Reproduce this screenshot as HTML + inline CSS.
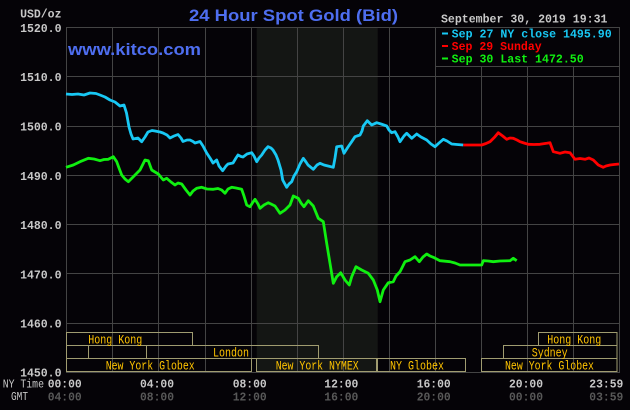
<!DOCTYPE html>
<html><head><meta charset="utf-8"><style>
html,body{margin:0;padding:0;background:#050307;}
svg{display:block;}
.m{font-family:"Liberation Mono",monospace;}
</style></head><body>
<svg width="630" height="410" viewBox="0 0 630 410" xmlns="http://www.w3.org/2000/svg">
<rect x="0" y="0" width="630" height="410" fill="#050307"/>
<rect x="256.7" y="27" width="121" height="345" fill="#141614"/>
<g stroke="#444444" stroke-width="1" fill="none">
<line x1="112.5" y1="27" x2="112.5" y2="372"/>
<line x1="158.5" y1="27" x2="158.5" y2="372"/>
<line x1="205.5" y1="27" x2="205.5" y2="372"/>
<line x1="251.5" y1="27" x2="251.5" y2="372"/>
<line x1="297.5" y1="27" x2="297.5" y2="372"/>
<line x1="343.5" y1="27" x2="343.5" y2="372"/>
<line x1="389.5" y1="27" x2="389.5" y2="372"/>
<line x1="435.5" y1="27" x2="435.5" y2="372"/>
<line x1="481.5" y1="27" x2="481.5" y2="372"/>
<line x1="527.5" y1="27" x2="527.5" y2="372"/>
<line x1="573.5" y1="27" x2="573.5" y2="372"/>
<line x1="66" y1="76.5" x2="619" y2="76.5"/>
<line x1="66" y1="126.5" x2="619" y2="126.5"/>
<line x1="66" y1="175.5" x2="619" y2="175.5"/>
<line x1="66" y1="224.5" x2="619" y2="224.5"/>
<line x1="66" y1="273.5" x2="619" y2="273.5"/>
<line x1="66" y1="323.5" x2="619" y2="323.5"/>
<rect x="66.5" y="27.5" width="553" height="345"/>
</g>
<g stroke="#a09c70" stroke-width="1" fill="none">
<rect x="66.5" y="332.5" width="126" height="13"/>
<rect x="538.5" y="332.5" width="78.5" height="13"/>
<rect x="66.5" y="345.5" width="22" height="13"/>
<rect x="88.5" y="345.5" width="58" height="13"/>
<rect x="146.5" y="345.5" width="172" height="13"/>
<rect x="503.5" y="345.5" width="113.5" height="13"/>
<rect x="66.5" y="358.5" width="185" height="13"/>
<rect x="256.5" y="358.5" width="120" height="13"/>
<rect x="377.5" y="358.5" width="88" height="13"/>
<rect x="481.5" y="358.5" width="135.5" height="13"/>
</g>
<g class="m" font-size="12.5" fill="#ffc400">
<text x="88.3" y="343.3" textLength="54" lengthAdjust="spacingAndGlyphs">Hong Kong</text>
<text x="213" y="356.3" textLength="36" lengthAdjust="spacingAndGlyphs">London</text>
<text x="105.7" y="369.3" textLength="89" lengthAdjust="spacingAndGlyphs">New York Globex</text>
<text x="275.7" y="369.3" textLength="83" lengthAdjust="spacingAndGlyphs">New York NYMEX</text>
<text x="390" y="369.3" textLength="54" lengthAdjust="spacingAndGlyphs">NY Globex</text>
<text x="547.3" y="343.3" textLength="54" lengthAdjust="spacingAndGlyphs">Hong Kong</text>
<text x="531.7" y="356.3" textLength="36" lengthAdjust="spacingAndGlyphs">Sydney</text>
<text x="505" y="369.3" textLength="89" lengthAdjust="spacingAndGlyphs">New York Globex</text>
</g>
<g fill="none" stroke-width="2.8" stroke-linejoin="round">
<polyline stroke="#18c8f4" points="66,94 72,94.5 78,94 84,95 90,93 96,93.5 100,95 105,97 110,100 115,102 120,106 124,105 126.5,113 129,127 131,134 133,139 138,138 141.7,141.7 145,137 148,132 152,130.5 155,131 160,132 163,133 167,135 170,138 174,136 178,134.5 181,138 183,141.5 187,140 190,140 193,141.5 195,143 200,141.5 203,146 206.7,153 210,158 213,163 216.7,160 219,166 222.7,170.7 226,166 228,164 233,163 236,158 238,155 241,156.5 243,157 247,154 251.7,152.7 254,156 256.7,161.7 259,158 261.7,155 265,150 268,146.7 271,148 273,150 276,155 278,160 281,170 282.7,180 286.7,187.3 289,184 291.7,181.7 294,176 296.7,171.7 300,164 303.3,158.3 306,162 308,165 313.3,169.3 317,165 320,163.3 324,165 328,166 333.3,167.3 335,158 336.7,146.7 341.7,146 344,153.3 348,147 351.7,141.7 355,136.7 360,135 362,131 363.3,126 367.3,120.7 371.7,125 376.7,122.7 381,124 386.7,126 389,130 391.7,132.7 395,131.7 398,137 400,141.7 404,136 406.7,133.3 411.7,138.3 416.7,134 421,137 426.7,140 431,144 435,146.7 439,143 443.3,139.3 447,141 451.7,144 457,144.5 463.3,145"/>
<polyline stroke="#ff0000" points="463.3,145 481.7,145 486,143.5 490,141.7 495,136.7 498.3,132.7 502.7,136 506.7,139.3 510,138 513.3,138.3 517,140 520,141.7 524,143 528.3,144.3 534,144.5 540,144.3 546.7,143.3 550,142.7 553.3,151.7 560,153.3 565,152 570,152.7 575,159.3 580,158.5 585,159.3 589,158 593.3,160 598.3,165 603.3,167.3 606,166 610,165 614,164.5 619,164"/>
<polyline stroke="#10f010" points="66,167.3 73.3,165 80,161.7 88.3,158.3 94,159 100,160.7 104,159.5 108.3,159.3 113.3,156.7 116.7,161.7 119,168 121.7,175 125,179 128.3,181.7 133.3,176.7 137,173 140,170 143,164 145,160 148.3,160.7 151.7,170 155,172 158.3,174 163.3,180 166.7,178.3 171,182 175,185 178,183 181.7,184 186,190 190,195 193,191 196.7,188.3 201.7,187.3 207,189 213.3,189.3 218,188.5 221.7,190 225,193.3 228,189 231.7,187.3 236,188 241.7,189.3 244,196 246.7,205 250,206.7 253,202 255,199.3 258,204 260,208.3 264,205 268.3,202.7 271,204 275,206 280,213.3 285,210 290,205 293.3,196 298.3,198.3 301,203 304,206.7 308.3,200.7 313.3,206 318.3,218.3 323.3,221.7 326.7,243.3 330,263.3 333.3,283.3 336.7,276.7 340.7,272.7 345,280 349.3,285 351.7,276.7 356,266.7 361.7,270 368.3,273.3 373.3,280 377.3,290 380,301.7 383.3,290 388.3,282.7 393.3,281.7 396,276 400,271.7 405,261.7 410,260 415,256.7 419.3,261.7 423,257 426.7,254 430,256 433.3,257.3 440,260.7 450,261.7 455,263 460,265 481.7,265 483.3,260.7 488,261 493.3,261.7 500,261 510,260.7 513.3,258.3 516.7,260.7"/>
</g>
<rect x="435.5" y="27.5" width="184" height="39" fill="#050307" stroke="#444444" stroke-width="1"/>
<rect x="442" y="32.5" width="6" height="2" fill="#18c8f4"/>
<rect x="442" y="45" width="6" height="2" fill="#ff0000"/>
<rect x="442" y="57.5" width="6" height="2" fill="#10f010"/>
<g class="m" font-size="11.5" font-weight="bold">
<text x="451.7" y="37.5" fill="#18c8f4" textLength="160" lengthAdjust="spacingAndGlyphs">Sep 27 NY close 1495.90</text>
<text x="451.7" y="50" fill="#ff0000" textLength="90" lengthAdjust="spacingAndGlyphs">Sep 29 Sunday</text>
<text x="451.7" y="62.5" fill="#10f010" textLength="132" lengthAdjust="spacingAndGlyphs">Sep 30 Last 1472.50</text>
<text x="441" y="22.5" fill="#c8c8c8" textLength="166.5" lengthAdjust="spacingAndGlyphs">September 30, 2019 19:31</text>
</g>
<g class="m" font-size="11.5" font-weight="bold" fill="#c8c8c8" text-anchor="end">
<text x="61.5" y="17.5">USD/oz</text>
<text x="61.5" y="31.8">1520.0</text>
<text x="61.5" y="81">1510.0</text>
<text x="61.5" y="130.5">1500.0</text>
<text x="61.5" y="179.8">1490.0</text>
<text x="61.5" y="229">1480.0</text>
<text x="61.5" y="278.3">1470.0</text>
<text x="61.5" y="327.6">1460.0</text>
<text x="61.5" y="376.5">1450.0</text>
</g>
<g class="m" font-size="11.5" fill="#c8c8c8">
<text x="2.7" y="387.6" textLength="41.3" lengthAdjust="spacingAndGlyphs">NY Time</text>
<text x="11" y="400" textLength="17" lengthAdjust="spacingAndGlyphs">GMT</text>
</g>
<g class="m" font-size="11.5" font-weight="bold" fill="#c8c8c8">
<text x="47.7" y="387.6" textLength="34" lengthAdjust="spacingAndGlyphs">00:00</text>
<text x="140" y="387.6" textLength="34" lengthAdjust="spacingAndGlyphs">04:00</text>
<text x="232.7" y="387.6" textLength="34" lengthAdjust="spacingAndGlyphs">08:00</text>
<text x="324.3" y="387.6" textLength="34" lengthAdjust="spacingAndGlyphs">12:00</text>
<text x="416.7" y="387.6" textLength="34" lengthAdjust="spacingAndGlyphs">16:00</text>
<text x="509" y="387.6" textLength="34" lengthAdjust="spacingAndGlyphs">20:00</text>
<text x="589.3" y="387.6" textLength="34" lengthAdjust="spacingAndGlyphs">23:59</text>
</g>
<g class="m" font-size="11.5" font-weight="bold" fill="#585858">
<text x="47.7" y="400.5" textLength="34" lengthAdjust="spacingAndGlyphs">04:00</text>
<text x="140" y="400.5" textLength="34" lengthAdjust="spacingAndGlyphs">08:00</text>
<text x="232.7" y="400.5" textLength="34" lengthAdjust="spacingAndGlyphs">12:00</text>
<text x="324.3" y="400.5" textLength="34" lengthAdjust="spacingAndGlyphs">16:00</text>
<text x="416.7" y="400.5" textLength="34" lengthAdjust="spacingAndGlyphs">20:00</text>
<text x="509" y="400.5" textLength="34" lengthAdjust="spacingAndGlyphs">00:00</text>
<text x="589.3" y="400.5" textLength="34" lengthAdjust="spacingAndGlyphs">03:59</text>
</g>
<text x="189" y="21" font-family="Liberation Sans, sans-serif" font-size="17" font-weight="bold" fill="#4e6ef0" textLength="209" lengthAdjust="spacingAndGlyphs">24 Hour Spot Gold (Bid)</text>
<text x="68" y="55" font-family="Liberation Sans, sans-serif" font-size="17" font-weight="bold" fill="#4e6ef0" textLength="133" lengthAdjust="spacingAndGlyphs">www.kitco.com</text>
</svg>
</body></html>
